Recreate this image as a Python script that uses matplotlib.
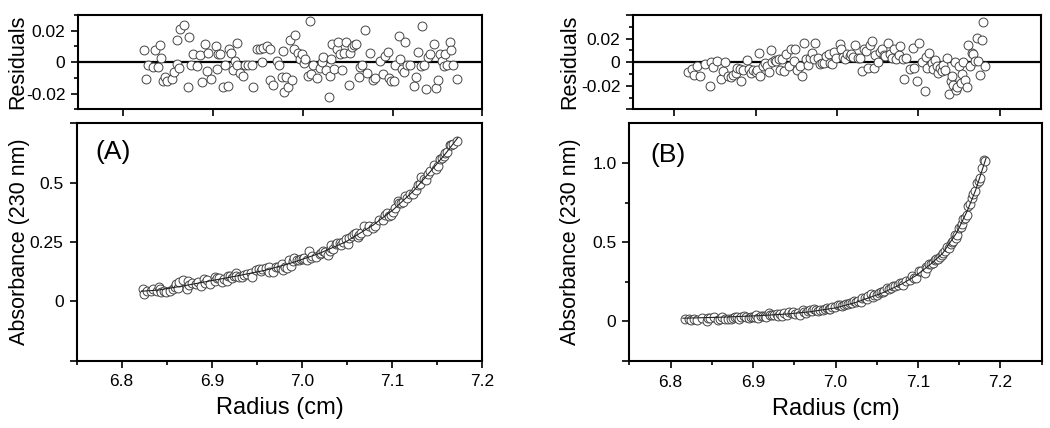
import matplotlib
matplotlib.use("Agg")
import matplotlib.pyplot as plt
from matplotlib.ticker import FixedLocator, FixedFormatter

plt.rcParams['font.family'] = ['Liberation Sans', 'DejaVu Sans']

# ---------------- Panel A data ----------------
radius_A = [6.8234, 6.8253, 6.828, 6.8327, 6.8353, 6.839, 6.841, 6.8424, 6.844, 6.8465,
            6.849, 6.854, 6.8566, 6.8595, 6.8603, 6.8625, 6.8633, 6.868, 6.8726, 6.8737,
            6.875, 6.878, 6.882, 6.885, 6.888, 6.891, 6.893, 6.8945, 6.8975, 6.9034,
            6.904, 6.906, 6.908, 6.911, 6.9135, 6.917, 6.918, 6.9198, 6.922, 6.9247,
            6.9265, 6.9273, 6.930, 6.933, 6.936, 6.9395, 6.9436, 6.945, 6.949, 6.952,
            6.9544, 6.956, 6.960, 6.963, 6.9637, 6.9674, 6.971, 6.973, 6.9767, 6.978,
            6.979, 6.9816, 6.9834, 6.986, 6.988, 6.9898, 6.9916, 6.9946, 6.9964, 6.999,
            7.001, 7.0028, 7.0054, 7.0076, 7.0095, 7.0113, 7.0158, 7.0195, 7.0214, 7.023,
            7.026, 7.0288, 7.0307, 7.0318, 7.0326, 7.0344, 7.038, 7.039, 7.042, 7.0437,
            7.0456, 7.0486, 7.051, 7.0523, 7.055, 7.0575, 7.0597, 7.0623, 7.0634, 7.066,
            7.069, 7.0716, 7.0746, 7.0783, 7.081, 7.0858, 7.0895, 7.092, 7.0947, 7.096,
            7.0984, 7.1014, 7.1033, 7.107, 7.1081, 7.11, 7.1126, 7.1144, 7.1163, 7.12,
            7.1237, 7.1267, 7.1282, 7.1312, 7.1323, 7.1356, 7.1378, 7.1393, 7.1416, 7.146,
            7.1483, 7.1505, 7.1528, 7.1553, 7.1572, 7.159, 7.161, 7.164, 7.1654, 7.1676,
            7.172]
residual_A = [0.0075, -0.0108, -0.0015, -0.003, 0.0075, -0.003, 0.0108, 0.0024, -0.0118, -0.0095,
              -0.0123, -0.0108, -0.0065, -0.0009, 0.014, -0.0037, 0.021, 0.0239, -0.0159, 0.0163,
              -0.0019, 0.005, -0.0026, 0.0045, -0.0129, 0.0114, -0.0054, 0.006, -0.0108, 0.0103,
              -0.0041, 0.005, 0.005, -0.0161, -0.0019, -0.015, 0.0082, 0.006, -0.0052, 0.0006,
              0.0125, -0.0015, -0.0069, -0.0086, -0.0019, -0.0019, -0.0019, -0.0159, 0.0086, 0.0086,
              0.0, 0.0092, 0.0103, 0.0086, -0.0112, -0.0144, 0.0006, -0.0019, -0.0097, 0.0071,
              -0.0191, -0.0095, -0.0159, 0.014, -0.0112, 0.0082, 0.0174, 0.0056, 0.0022, 0.005,
              -0.0004, 0.0022, -0.0086, 0.0265, -0.0073, -0.0019, -0.0101, -0.0037, 0.0002, 0.0034,
              -0.0047, -0.0219, -0.0086, 0.0017, 0.0118, -0.0043, 0.0082, 0.0131, 0.005, -0.0052,
              0.006, 0.0131, -0.0144, 0.006, 0.0097, 0.011, 0.0118, -0.0097, -0.0032, -0.0015,
              0.0204, -0.0069, 0.006, -0.0112, -0.0101, 0.0006, -0.0073, 0.0039, 0.0065, -0.0101,
              -0.0123, -0.0118, -0.0019, 0.0168, 0.0017, -0.0043, -0.0065, 0.0131, -0.0019, -0.0019,
              -0.015, -0.0097, 0.0065, -0.0026, 0.0228, -0.0019, -0.017, 0.0034, 0.005, 0.0118,
              -0.0166, -0.0112, 0.005, 0.0006, -0.0026, 0.005, -0.0015, 0.0131, 0.0077, -0.0015,
              -0.0105]
absorbance_A = [0.050, 0.032, 0.042, 0.042, 0.053, 0.044, 0.058, 0.050, 0.037, 0.041,
                0.040, 0.045, 0.050, 0.058, 0.073, 0.057, 0.082, 0.088, 0.052, 0.085,
                0.067, 0.076, 0.072, 0.081, 0.065, 0.092, 0.076, 0.089, 0.074, 0.100,
                0.086, 0.096, 0.097, 0.079, 0.094, 0.084, 0.108, 0.107, 0.097, 0.105,
                0.118, 0.105, 0.101, 0.102, 0.111, 0.113, 0.117, 0.104, 0.131, 0.134,
                0.127, 0.137, 0.141, 0.143, 0.124, 0.125, 0.143, 0.143, 0.139, 0.157,
                0.132, 0.145, 0.140, 0.173, 0.150, 0.171, 0.183, 0.175, 0.174, 0.180,
                0.177, 0.182, 0.175, 0.213, 0.181, 0.189, 0.187, 0.198, 0.205, 0.211,
                0.208, 0.195, 0.212, 0.224, 0.235, 0.222, 0.241, 0.247, 0.244, 0.237,
                0.251, 0.263, 0.241, 0.265, 0.275, 0.282, 0.288, 0.272, 0.281, 0.289,
                0.318, 0.297, 0.317, 0.308, 0.317, 0.341, 0.344, 0.363, 0.373, 0.360,
                0.365, 0.375, 0.391, 0.423, 0.412, 0.412, 0.419, 0.445, 0.437, 0.450,
                0.450, 0.468, 0.491, 0.495, 0.525, 0.515, 0.510, 0.537, 0.548, 0.574,
                0.556, 0.572, 0.598, 0.605, 0.611, 0.626, 0.629, 0.659, 0.660, 0.662,
                0.675]
fit_radius_A = [6.822, 6.841, 6.8706, 6.9003, 6.93, 6.96, 6.989, 7.019, 7.049, 7.079,
                7.101, 7.123, 7.145, 7.160, 7.173]
fit_absorbance_A = [0.042, 0.047, 0.066, 0.087, 0.108, 0.131, 0.162, 0.201, 0.251, 0.321,
                    0.385, 0.462, 0.558, 0.626, 0.690]

# ---------------- Panel B data ----------------
radius_B = [6.8171, 6.8224, 6.8245, 6.8286, 6.8318, 6.8376, 6.8437, 6.8449, 6.8482, 6.8522,
            6.858, 6.8604, 6.8624, 6.8661, 6.8694, 6.8727, 6.8755, 6.8776, 6.8808, 6.8824,
            6.8849, 6.889, 6.8918, 6.8947, 6.8971, 6.9, 6.902, 6.9041, 6.9061, 6.9094,
            6.9122, 6.9143, 6.9163, 6.9192, 6.9204, 6.9233, 6.9257, 6.9286, 6.9298, 6.9327,
            6.9347, 6.938, 6.9408, 6.9437, 6.9469, 6.949, 6.951, 6.9551, 6.9571, 6.96,
            6.9624, 6.9641, 6.9665, 6.9694, 6.9714, 6.9735, 6.9763, 6.9788, 6.9816, 6.9845,
            6.9869, 6.9898, 6.9918, 6.9939, 6.9959, 6.9992, 7.0033, 7.0049, 7.0073, 7.0102,
            7.0122, 7.0155, 7.0171, 7.0196, 7.0224, 7.0253, 7.0278, 7.0306, 7.0327, 7.0359,
            7.0376, 7.04, 7.0429, 7.0449, 7.0469, 7.0498, 7.0522, 7.0551, 7.0571, 7.0592,
            7.062, 7.0645, 7.0673, 7.0702, 7.0727, 7.0755, 7.0776, 7.0808, 7.0824, 7.0849,
            7.0898, 7.0931, 7.0947, 7.098, 7.1012, 7.1041, 7.1082, 7.1094, 7.111, 7.1135,
            7.1163, 7.1184, 7.1204, 7.1224, 7.1245, 7.1265, 7.1286, 7.1306, 7.1327, 7.1347,
            7.138, 7.1396, 7.1412, 7.1429, 7.1449, 7.1461, 7.1478, 7.1502, 7.1518, 7.1531,
            7.1551, 7.1571, 7.1592, 7.1612, 7.1633, 7.1653, 7.1673, 7.1694, 7.1714, 7.1735,
            7.1755, 7.1776, 7.1796, 7.1816]
residual_B = [-0.0086, -0.0057, -0.0106, -0.0034, -0.0114, -0.0014, -0.02, 0.0, -0.0043, 0.0006,
              -0.0143, -0.0077, 0.0, -0.0114, -0.0126, -0.0106, -0.0091, -0.0049, -0.0057, -0.0163,
              -0.0063, 0.0014, -0.0057, -0.0091, -0.0063, -0.0086, -0.0063, 0.008, -0.0114, -0.0029,
              -0.0006, -0.0029, -0.0086, 0.01, 0.0, 0.0014, 0.0009, 0.0029, -0.0063, 0.0023,
              -0.0077, 0.0066, -0.0034, 0.0109, 0.0009, 0.0109, -0.0063, -0.0029, -0.012, 0.016,
              0.0023, -0.002, 0.0037, 0.008, 0.0029, 0.0166, 0.0037, -0.0014, -0.0006, -0.0006,
              0.0051, 0.0066, -0.0006, -0.0014, 0.0089, 0.0037, 0.0157, 0.0114, 0.0046, 0.0023,
              0.0066, 0.0051, 0.0066, 0.0046, 0.0143, 0.0037, 0.0037, -0.0077, 0.0109, 0.0094,
              -0.0049, 0.0143, 0.018, -0.0049, 0.0057, 0.0, 0.0086, 0.0109, 0.0057, 0.0051,
              0.016, 0.0066, 0.0037, 0.0109, 0.0029, 0.0057, 0.0137, 0.0023, -0.014, 0.0037,
              -0.0057, 0.0123, -0.0049, -0.0163, 0.0166, 0.0, -0.0243, 0.0046, -0.0049, 0.0074,
              -0.0011, -0.0057, 0.0014, -0.0034, -0.0091, -0.0049, -0.0077, -0.002, -0.0063, 0.0037,
              -0.0269, -0.0163, -0.012, -0.0191, 0.0, -0.024, -0.0211, -0.0029, -0.0177, -0.0097,
              0.0, -0.0149, -0.0211, 0.0146, -0.0029, 0.008, 0.0066, 0.0009, 0.0209, 0.0009,
              -0.0106, 0.0189, 0.0343, -0.0029]
absorbance_B = [0.012, 0.015, 0.011, 0.018, 0.011, 0.022, 0.004, 0.024, 0.020, 0.026,
                0.011, 0.018, 0.027, 0.016, 0.015, 0.018, 0.020, 0.025, 0.025, 0.015,
                0.025, 0.034, 0.027, 0.024, 0.028, 0.026, 0.029, 0.043, 0.024, 0.034,
                0.037, 0.035, 0.030, 0.050, 0.040, 0.042, 0.043, 0.046, 0.037, 0.046,
                0.037, 0.052, 0.043, 0.059, 0.050, 0.061, 0.045, 0.051, 0.043, 0.072,
                0.060, 0.056, 0.063, 0.069, 0.066, 0.081, 0.070, 0.067, 0.070, 0.072,
                0.080, 0.084, 0.078, 0.079, 0.091, 0.088, 0.105, 0.103, 0.100, 0.102,
                0.109, 0.112, 0.116, 0.117, 0.131, 0.124, 0.129, 0.123, 0.145, 0.150,
                0.139, 0.162, 0.172, 0.152, 0.167, 0.167, 0.180, 0.187, 0.186, 0.190,
                0.208, 0.204, 0.208, 0.222, 0.221, 0.230, 0.243, 0.240, 0.228, 0.254,
                0.259, 0.287, 0.275, 0.274, 0.320, 0.315, 0.308, 0.342, 0.339, 0.361,
                0.365, 0.370, 0.387, 0.391, 0.395, 0.409, 0.416, 0.433, 0.444, 0.470,
                0.464, 0.487, 0.504, 0.510, 0.544, 0.529, 0.548, 0.592, 0.594, 0.616,
                0.647, 0.654, 0.670, 0.730, 0.740, 0.777, 0.802, 0.823, 0.873, 0.887,
                0.907, 0.971, 1.018, 1.013]
fit_radius_B = [6.815, 6.86, 6.907, 6.94, 6.968, 7.0, 7.025, 7.057, 7.08, 7.098,
                7.115, 7.13, 7.147, 7.16, 7.17, 7.1825]
fit_absorbance_B = [0.020, 0.026, 0.036, 0.046, 0.060, 0.085, 0.120, 0.180, 0.235, 0.290,
                    0.360, 0.430, 0.560, 0.700, 0.830, 1.030]

# ---------------- ticks / labels ----------------
x_ticks = [6.8, 6.9, 7.0, 7.1, 7.2]
x_tick_labels = ['6.8', '6.9', '7.0', '7.1', '7.2']
x_minor_ticks = [6.75, 6.85, 6.95, 7.05, 7.15, 7.25]
resA_ticks = [-0.02, 0.0, 0.02]
resA_tick_labels = ['-0.02', '0', '0.02']
resB_ticks = [-0.04, -0.02, 0.0, 0.02, 0.04]
resB_tick_labels = ['', '-0.02', '0', '0.02', '']
res_minor_ticks = [-0.03, -0.01, 0.01, 0.03]
absA_ticks = [-0.25, 0.0, 0.25, 0.5, 0.75]
absA_tick_labels = ['', '0', '0.25', '0.5', '']
absB_ticks = [-0.25, 0.0, 0.5, 1.0]
absB_tick_labels = ['', '0', '0.5', '1.0']
absB_minor_ticks = [0.25, 0.75]
panel_labels = ['(A)', '(B)']
xlabel = 'Radius (cm)'
ylabel_res = 'Residuals'
ylabel_abs = 'Absorbance (230 nm)'

W, H = 1050, 428
fig = plt.figure(figsize=(W / 100, H / 100), dpi=100)


def rect(x0, y0, x1, y1):
    return [x0 / W, 1 - y1 / H, (x1 - x0) / W, (y1 - y0) / H]


ax_rA = fig.add_axes(rect(78.3, 15, 482.3, 109.3))
ax_A = fig.add_axes(rect(76.5, 123.3, 482.3, 360.5))
ax_rB = fig.add_axes(rect(633.3, 15, 1040.7, 109.3))
ax_B = fig.add_axes(rect(629.3, 123.3, 1041.7, 361))

mk = dict(marker='o', linestyle='none', markersize=6.4, markerfacecolor='white',
          markeredgecolor='#444444', markeredgewidth=0.7)

TICK_FS = 12.5
LAB_FS_Y = 15.5
LAB_FS_X = 17


def style(ax):
    for s in ax.spines.values():
        s.set_linewidth(1.5)
    ax.tick_params(which='major', direction='out', length=4.8, width=1.2,
                   labelsize=TICK_FS)
    ax.tick_params(which='minor', direction='out', length=2.9, width=1.2)
    ax.tick_params(axis='x', which='both', top=False, pad=5)
    ax.tick_params(axis='y', which='both', right=False, pad=4.5)


# Residual panels
for ax, r, res, xlim, yt, ytl, ylim in [
        (ax_rA, radius_A, residual_A, (6.75, 7.2), resA_ticks, resA_tick_labels, (-0.03, 0.03)),
        (ax_rB, radius_B, residual_B, (6.75, 7.25), resB_ticks, resB_tick_labels, (-0.04, 0.04))]:
    ax.axhline(0, color='black', lw=1.6, zorder=1)
    ax.plot(r, res, zorder=2, **mk)
    ax.set_xlim(*xlim)
    ax.set_ylim(*ylim)
    ax.xaxis.set_major_locator(FixedLocator(x_ticks))
    ax.xaxis.set_major_formatter(FixedFormatter([''] * len(x_ticks)))
    ax.yaxis.set_major_locator(FixedLocator(yt))
    ax.yaxis.set_major_formatter(FixedFormatter(ytl))
    ax.yaxis.set_minor_locator(FixedLocator(res_minor_ticks))
    style(ax)
    ax.set_ylabel(ylabel_res, fontsize=LAB_FS_Y)

# Absorbance panels
for ax, r, a, fr, fa, xlim, yt, ytl, ylim, yminor, lab, labpos in [
        (ax_A, radius_A, absorbance_A, fit_radius_A, fit_absorbance_A, (6.75, 7.2),
         absA_ticks, absA_tick_labels, (-0.25, 0.75), [], panel_labels[0], (0.09, 0.879)),
        (ax_B, radius_B, absorbance_B, fit_radius_B, fit_absorbance_B, (6.75, 7.25),
         absB_ticks, absB_tick_labels, (-0.25, 1.25), absB_minor_ticks, panel_labels[1],
         (0.095, 0.866))]:
    ax.plot(r, a, zorder=2, **mk)
    ax.plot(fr, fa, color='#222222', lw=0.8, zorder=3)
    ax.set_xlim(*xlim)
    ax.set_ylim(*ylim)
    ax.xaxis.set_major_locator(FixedLocator(x_ticks))
    ax.xaxis.set_major_formatter(FixedFormatter(x_tick_labels))
    ax.xaxis.set_minor_locator(FixedLocator(x_minor_ticks))
    ax.yaxis.set_major_locator(FixedLocator(yt))
    ax.yaxis.set_major_formatter(FixedFormatter(ytl))
    if yminor:
        ax.yaxis.set_minor_locator(FixedLocator(yminor))
    style(ax)
    ax.set_xlabel(xlabel, fontsize=LAB_FS_X, labelpad=6)
    ax.set_ylabel(ylabel_abs, fontsize=LAB_FS_Y)
    ax.text(labpos[0], labpos[1], lab, transform=ax.transAxes, fontsize=19,
            ha='center', va='center')

# y label positions (pixel offsets converted to axes fractions)
ax_rA.yaxis.set_label_coords(-50 / 404, 0.5)
ax_A.yaxis.set_label_coords(-47 / 405.8, 0.5)
ax_rB.yaxis.set_label_coords(-53 / 407.4, 0.5)
ax_B.yaxis.set_label_coords(-48 / 412.4, 0.5)

fig.savefig('out.png', dpi=100)
